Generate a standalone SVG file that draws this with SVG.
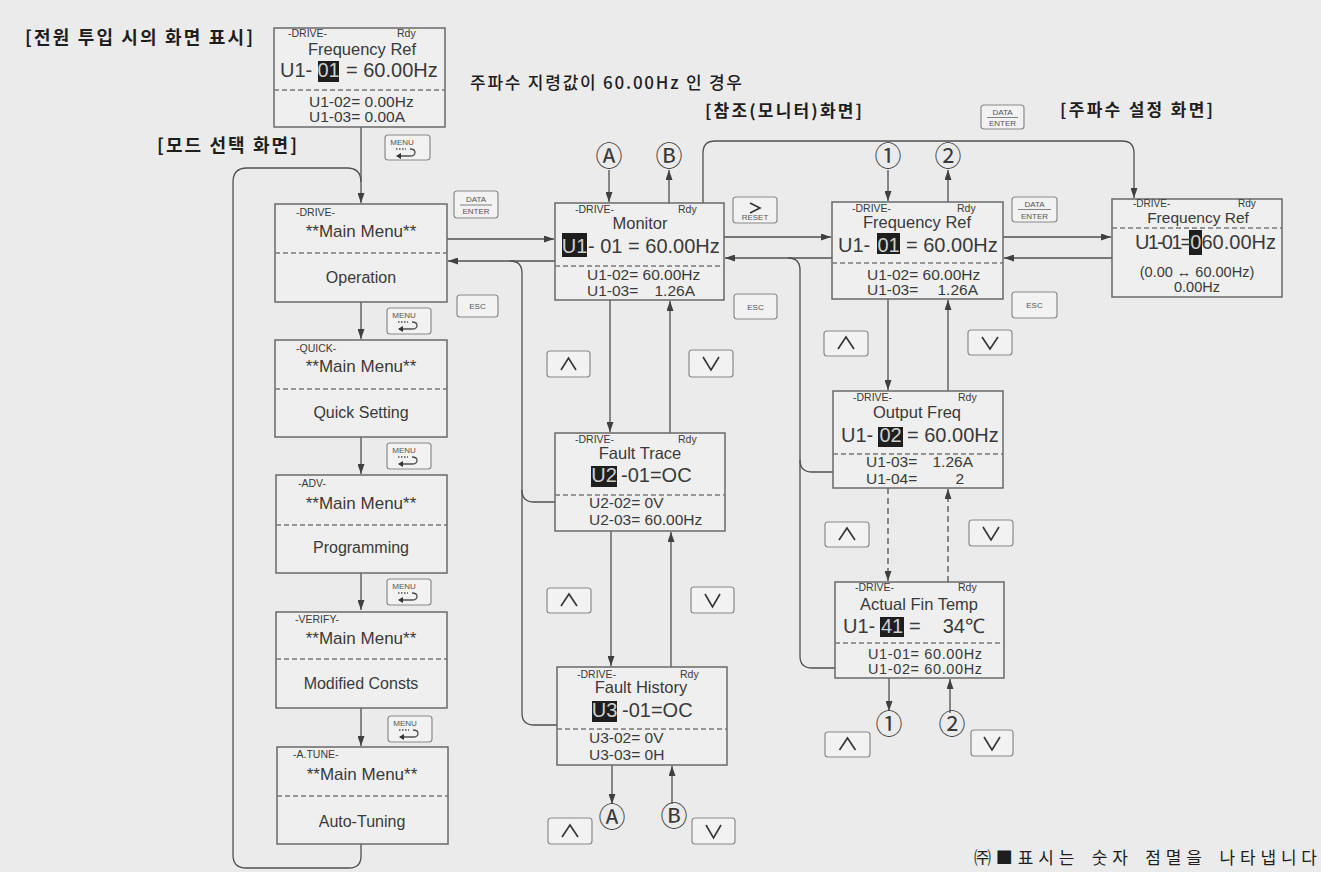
<svg xmlns="http://www.w3.org/2000/svg" width="1321" height="872" viewBox="0 0 1321 872">
<defs>
<marker id="a" viewBox="0 0 10 7" refX="10" refY="3.5" markerWidth="10" markerHeight="7" orient="auto" markerUnits="userSpaceOnUse"><path d="M0,0 L10,3.5 L0,7 z" fill="#404040"/></marker>
<style>
.bg{fill:#ebebeb}
.bx{fill:#efefef;stroke:#6a6a6a;stroke-width:1.5}
.dsh{stroke:#7a7a7a;stroke-width:1.3;stroke-dasharray:5 3;fill:none}
.ln{fill:none;stroke:#505050;stroke-width:1.3}
.ld{fill:none;stroke:#505050;stroke-width:1.3;stroke-dasharray:6 4}
.t{font-family:"Liberation Sans",Arial,sans-serif;fill:#3a3a3a}
.s{font-size:10.5px}
.ti{font-size:16.5px;text-anchor:middle}
.big{font-size:20px}
.sub{font-size:15.5px}
.mm{font-size:17px;text-anchor:middle}
.m2{font-size:16px;text-anchor:middle}
.end{text-anchor:end}
.hl{fill:#1e1e1e}
.hlt{font-family:"Liberation Sans",Arial,sans-serif;font-size:20px;fill:#d0d0d0;text-anchor:middle}
.kr{font-family:"Noto Sans CJK KR","Noto Sans CJK SC",sans-serif;fill:#1e1e1e}
.btn{fill:#f2f2f2;stroke:#8a8a8a;stroke-width:1.2}
.bt{font-family:"Liberation Sans",Arial,sans-serif;font-size:8px;fill:#555;text-anchor:middle}
.chev{fill:none;stroke:#333;stroke-width:1.6}
.circ{font-family:"Noto Sans CJK KR","DejaVu Sans",sans-serif;font-size:27px;fill:#3a3a3a;text-anchor:middle}
</style>
</defs>
<rect class="bg" x="0" y="0" width="1321" height="872"/>

<!-- headings -->
<g id="headings">
<text class="kr" x="25" y="44" font-size="18" font-weight="bold" textLength="228" lengthAdjust="spacing">[전원 투입 시의 화면 표시]</text>
<text class="kr" x="157" y="152" font-size="18" font-weight="bold" textLength="140" lengthAdjust="spacing">[모드 선택 화면]</text>
<text class="kr" x="470" y="89" font-size="17" font-weight="500" textLength="272" lengthAdjust="spacing">주파수 지령값이 60.00Hz 인 경우</text>
<text class="kr" x="705" y="117" font-size="17" font-weight="bold" textLength="157" lengthAdjust="spacing">[참조(모니터)화면]</text>
<text class="kr" x="1060" y="116" font-size="17" font-weight="bold" textLength="153" lengthAdjust="spacing">[주파수 설정 화면]</text>
</g>
<g id="footnote">
<text class="kr" x="974" y="864" font-size="17" word-spacing="4" textLength="343" lengthAdjust="spacing">㈜■표시는 숫자 점멸을 나타냅니다</text>
</g>

<!-- connectors -->
<g id="connectors">
<path class="ln" d="M361,127 V203" marker-end="url(#a)"/>
<path class="ln" d="M361,844 V856 Q361,868 349,868 H246 Q233,868 233,855 V182 Q233,168 247,168 H347 Q361,168 361,182"/>
<path class="ln" d="M361,302 V339" marker-end="url(#a)"/>
<path class="ln" d="M361,437 V474" marker-end="url(#a)"/>
<path class="ln" d="M361,573 V610" marker-end="url(#a)"/>
<path class="ln" d="M361,708 V746" marker-end="url(#a)"/>
<path class="ln" d="M447,239 H554" marker-end="url(#a)"/>
<path class="ln" d="M555,261 H448" marker-end="url(#a)"/>
<path class="ln" d="M557,725 H534 Q522,725 522,713 V273 Q522,261 510,261"/>
<path class="ln" d="M555,502 H534 Q522,502 522,490"/>
<path class="ln" d="M724,237 H831" marker-end="url(#a)"/>
<path class="ln" d="M832,258 H725" marker-end="url(#a)"/>
<path class="ln" d="M835,668 H812 Q800,668 800,656 V270 Q800,258 788,258"/>
<path class="ln" d="M833,472 H812 Q800,472 800,460"/>
<path class="ln" d="M1003,237 H1111" marker-end="url(#a)"/>
<path class="ln" d="M1112,258 H1004" marker-end="url(#a)"/>
<path class="ln" d="M703,203 V153 Q703,141 715,141 H1122 Q1134,141 1134,153 V198" marker-end="url(#a)"/>
<path class="ln" d="M609,170 V202" marker-end="url(#a)"/>
<path class="ln" d="M669,203 V170" marker-end="url(#a)"/>
<path class="ln" d="M610,300 V432" marker-end="url(#a)"/>
<path class="ln" d="M670,433 V301" marker-end="url(#a)"/>
<path class="ln" d="M611,531 V666" marker-end="url(#a)"/>
<path class="ln" d="M671,667 V532" marker-end="url(#a)"/>
<path class="ln" d="M612,765 V804" marker-end="url(#a)"/>
<path class="ln" d="M672,804 V766" marker-end="url(#a)"/>
<path class="ln" d="M888,170 V201" marker-end="url(#a)"/>
<path class="ln" d="M948,202 V170" marker-end="url(#a)"/>
<path class="ln" d="M888,299 V390" marker-end="url(#a)"/>
<path class="ln" d="M948,391 V300" marker-end="url(#a)"/>
<path class="ld" d="M888,488 V581" marker-end="url(#a)"/>
<path class="ld" d="M948,582 V489" marker-end="url(#a)"/>
<path class="ln" d="M889,678 V711" marker-end="url(#a)"/>
<path class="ln" d="M950,713 V679" marker-end="url(#a)"/>
</g>

<!-- circled labels -->
<g id="labels">
<text class="circ" x="609" y="166">Ⓐ</text>
<text class="circ" x="669" y="166">Ⓑ</text>
<text class="circ" x="888" y="166">①</text>
<text class="circ" x="948" y="166">②</text>
<text class="circ" x="612" y="827">Ⓐ</text>
<text class="circ" x="674" y="826">Ⓑ</text>
<text class="circ" x="889" y="734">①</text>
<text class="circ" x="952" y="734">②</text>
</g>

<!-- power-on screen -->
<g id="node-power">
<rect class="bx" x="274" y="28" width="171" height="99"/>
<line class="dsh" x1="274" y1="90" x2="445" y2="90"/>
<text class="t s" x="288" y="37">-DRIVE-</text>
<text class="t s" x="397" y="37">Rdy</text>
<text class="t ti" x="362" y="55">Frequency Ref</text>
<text class="t big" x="280" y="77">U1-</text>
<rect class="hl" x="318" y="61" width="21" height="21"/>
<text class="hlt" x="328.5" y="77">01</text>
<text class="t big" x="346" y="77">= 60.00Hz</text>
<text class="t sub" x="309" y="107">U1-02= 0.00Hz</text>
<text class="t sub" x="309" y="122">U1-03= 0.00A</text>
</g>

<!-- main menu screens -->
<g id="node-drive">
<rect class="bx" x="275" y="204" width="172" height="98"/>
<line class="dsh" x1="275" y1="253" x2="447" y2="253"/>
<text class="t s" x="296" y="216">-DRIVE-</text>
<text class="t mm" x="361" y="237">**Main Menu**</text>
<text class="t m2" x="361" y="283">Operation</text>
</g>
<g id="node-quick">
<rect class="bx" x="275" y="340" width="172" height="97"/>
<line class="dsh" x1="275" y1="389" x2="447" y2="389"/>
<text class="t s" x="296" y="352">-QUICK-</text>
<text class="t mm" x="361" y="372">**Main Menu**</text>
<text class="t m2" x="361" y="418">Quick Setting</text>
</g>
<g id="node-adv">
<rect class="bx" x="276" y="475" width="171" height="98"/>
<line class="dsh" x1="276" y1="525" x2="447" y2="525"/>
<text class="t s" x="298" y="487">-ADV-</text>
<text class="t mm" x="361" y="509">**Main Menu**</text>
<text class="t m2" x="361" y="553">Programming</text>
</g>
<g id="node-verify">
<rect class="bx" x="276" y="612" width="171" height="96"/>
<line class="dsh" x1="276" y1="659" x2="447" y2="659"/>
<text class="t s" x="295" y="623">-VERIFY-</text>
<text class="t mm" x="361" y="644">**Main Menu**</text>
<text class="t m2" x="361" y="689">Modified Consts</text>
</g>
<g id="node-atune">
<rect class="bx" x="277" y="747" width="171" height="97"/>
<line class="dsh" x1="277" y1="796" x2="448" y2="796"/>
<text class="t s" x="293" y="758">-A.TUNE-</text>
<text class="t mm" x="362" y="780">**Main Menu**</text>
<text class="t m2" x="362" y="827">Auto-Tuning</text>
</g>

<!-- monitor column -->
<g id="node-monitor">
<rect class="bx" x="555" y="203" width="169" height="97"/>
<line class="dsh" x1="555" y1="266" x2="724" y2="266"/>
<text class="t s" x="575" y="213">-DRIVE-</text>
<text class="t s" x="678" y="213">Rdy</text>
<text class="t ti" x="640" y="229">Monitor</text>
<rect class="hl" x="562" y="233" width="25" height="24"/>
<text class="hlt" x="574.5" y="253">U1</text>
<text class="t big" x="588" y="253">- 01 = 60.00Hz</text>
<text class="t sub" x="587" y="280">U1-02= 60.00Hz</text>
<text class="t sub" x="587" y="296">U1-03=</text>
<text class="t sub end" x="695" y="296">1.26A</text>
</g>
<g id="node-faulttrace">
<rect class="bx" x="555" y="433" width="170" height="98"/>
<line class="dsh" x1="555" y1="495" x2="725" y2="495"/>
<text class="t s" x="575" y="443">-DRIVE-</text>
<text class="t s" x="678" y="443">Rdy</text>
<text class="t ti" x="640" y="459">Fault Trace</text>
<rect class="hl" x="591" y="466" width="26" height="21"/>
<text class="hlt" x="604" y="482">U2</text>
<text class="t big" x="621" y="482">-01=OC</text>
<text class="t sub" x="589" y="508">U2-02= 0V</text>
<text class="t sub" x="589" y="525">U2-03= 60.00Hz</text>
</g>
<g id="node-faulthistory">
<rect class="bx" x="557" y="667" width="170" height="98"/>
<line class="dsh" x1="557" y1="729" x2="727" y2="729"/>
<text class="t s" x="577" y="678">-DRIVE-</text>
<text class="t s" x="680" y="678">Rdy</text>
<text class="t ti" x="641" y="693">Fault History</text>
<rect class="hl" x="592" y="701" width="25" height="21"/>
<text class="hlt" x="604.5" y="717">U3</text>
<text class="t big" x="622" y="717">-01=OC</text>
<text class="t sub" x="589" y="743">U3-02= 0V</text>
<text class="t sub" x="589" y="760">U3-03= 0H</text>
</g>

<!-- U1 column -->
<g id="node-freqref">
<rect class="bx" x="832" y="202" width="171" height="97"/>
<line class="dsh" x1="832" y1="263" x2="1003" y2="263"/>
<text class="t s" x="852" y="212">-DRIVE-</text>
<text class="t s" x="957" y="212">Rdy</text>
<text class="t ti" x="917" y="228">Frequency Ref</text>
<text class="t big" x="838" y="252">U1-</text>
<rect class="hl" x="877" y="233" width="23" height="21"/>
<text class="hlt" x="888.5" y="252">01</text>
<text class="t big" x="906" y="252">= 60.00Hz</text>
<text class="t sub" x="867" y="280">U1-02= 60.00Hz</text>
<text class="t sub" x="867" y="295">U1-03=</text>
<text class="t sub end" x="978" y="295">1.26A</text>
</g>
<g id="node-outputfreq">
<rect class="bx" x="833" y="391" width="170" height="97"/>
<line class="dsh" x1="833" y1="454" x2="1003" y2="454"/>
<text class="t s" x="853" y="401">-DRIVE-</text>
<text class="t s" x="958" y="401">Rdy</text>
<text class="t ti" x="917" y="418">Output Freq</text>
<text class="t big" x="841" y="442">U1-</text>
<rect class="hl" x="878" y="427" width="25" height="20"/>
<text class="hlt" x="890.5" y="442">02</text>
<text class="t big" x="907" y="442">= 60.00Hz</text>
<text class="t sub" x="866" y="467">U1-03=</text>
<text class="t sub end" x="973" y="467">1.26A</text>
<text class="t sub" x="866" y="484">U1-04=</text>
<text class="t sub end" x="964" y="484">2</text>
</g>
<g id="node-fintemp">
<rect class="bx" x="835" y="582" width="169" height="96"/>
<line class="dsh" x1="835" y1="643" x2="1004" y2="643"/>
<text class="t s" x="855" y="591">-DRIVE-</text>
<text class="t s" x="958" y="591">Rdy</text>
<text class="t ti" x="919" y="610">Actual Fin Temp</text>
<text class="t big" x="843" y="633">U1-</text>
<rect class="hl" x="880" y="617" width="24" height="20"/>
<text class="hlt" x="892" y="633">41</text>
<text class="t big" x="909" y="633">=</text>
<text class="t big end" x="985" y="633" font-family="'Liberation Sans','DejaVu Sans','Noto Sans CJK KR',sans-serif">34℃</text>
<text class="t" x="868" y="659" font-size="14.5" textLength="114" lengthAdjust="spacing">U1-01= 60.00Hz</text>
<text class="t" x="868" y="674" font-size="14.5" textLength="114" lengthAdjust="spacing">U1-02= 60.00Hz</text>
</g>

<!-- frequency setting screen -->
<g id="node-setting">
<rect class="bx" x="1112" y="199" width="170" height="98"/>
<line class="dsh" x1="1112" y1="228" x2="1282" y2="228"/>
<text class="t" x="1133" y="207" font-size="10">-DRIVE-</text>
<text class="t" x="1238" y="207" font-size="10">Rdy</text>
<text class="t" x="1198" y="223" font-size="15.5" text-anchor="middle">Frequency Ref</text>
<rect class="hl" x="1189" y="230" width="13" height="25"/>
<text class="t big" x="1135" y="249"><tspan letter-spacing="-1.8">U1-01=</tspan><tspan fill="#d0d0d0">0</tspan>60.00Hz</text>
<text class="t" x="1197" y="277" font-size="14.5" text-anchor="middle">(0.00 ↔ 60.00Hz)</text>
<text class="t" x="1197" y="291.5" font-size="14.5" text-anchor="middle">0.00Hz</text>
</g>

<!-- keys -->
<g id="keys">
<g id="key-menu-0"><rect class="btn" x="385" y="135" width="45" height="25" rx="3"/><text class="bt" x="402" y="145">MENU</text><path class="ln" d="M396,149 h10" stroke-dasharray="1.5 1.5"/><path class="ln" d="M410,149 q5,0 5,3.5 q0,3.5 -5,3.5 h-13" stroke="#333"/><path d="M396,156 l5,-3 v6 z" fill="#333"/></g>
<g id="key-enter-0"><rect class="btn" x="454" y="191" width="44" height="27" rx="3"/><text class="bt" x="476" y="202">DATA</text><line x1="460" y1="205" x2="492" y2="205" stroke="#666" stroke-width="0.8"/><text class="bt" x="476" y="214">ENTER</text></g>
<g id="key-esc-0"><rect class="btn" x="457" y="295" width="41" height="22" rx="3"/><text class="bt" x="477.5" y="309">ESC</text></g>
<g id="key-menu-1"><rect class="btn" x="387" y="308" width="44" height="26" rx="3"/><text class="bt" x="404" y="318">MENU</text><path class="ln" d="M398,322 h10" stroke-dasharray="1.5 1.5"/><path class="ln" d="M412,322 q5,0 5,3.5 q0,3.5 -5,3.5 h-13" stroke="#333"/><path d="M398,329 l5,-3 v6 z" fill="#333"/></g>
<g id="key-menu-2"><rect class="btn" x="387" y="443" width="44" height="26" rx="3"/><text class="bt" x="404" y="453">MENU</text><path class="ln" d="M398,457 h10" stroke-dasharray="1.5 1.5"/><path class="ln" d="M412,457 q5,0 5,3.5 q0,3.5 -5,3.5 h-13" stroke="#333"/><path d="M398,464 l5,-3 v6 z" fill="#333"/></g>
<g id="key-menu-3"><rect class="btn" x="387" y="579" width="44" height="26" rx="3"/><text class="bt" x="404" y="589">MENU</text><path class="ln" d="M398,593 h10" stroke-dasharray="1.5 1.5"/><path class="ln" d="M412,593 q5,0 5,3.5 q0,3.5 -5,3.5 h-13" stroke="#333"/><path d="M398,600 l5,-3 v6 z" fill="#333"/></g>
<g id="key-menu-4"><rect class="btn" x="388" y="716" width="44" height="26" rx="3"/><text class="bt" x="405" y="726">MENU</text><path class="ln" d="M399,730 h10" stroke-dasharray="1.5 1.5"/><path class="ln" d="M413,730 q5,0 5,3.5 q0,3.5 -5,3.5 h-13" stroke="#333"/><path d="M399,737 l5,-3 v6 z" fill="#333"/></g>
<g id="key-reset"><rect class="btn" x="733" y="197" width="44" height="26" rx="3"/><path class="chev" d="M750,203 L760,208 L750,213"/><text class="bt" x="755" y="220">RESET</text></g>
<g id="key-esc-1"><rect class="btn" x="734" y="294" width="43" height="25" rx="3"/><text class="bt" x="755.5" y="309.5">ESC</text></g>
<g id="key-up-1"><rect class="btn" x="547" y="351" width="43" height="26" rx="3"/><path class="chev" d="M561,370 L568.5,358 L576,370"/></g>
<g id="key-down-1"><rect class="btn" x="689" y="350" width="44" height="27" rx="3"/><path class="chev" d="M703,357 L711,370 L719,357"/></g>
<g id="key-up-2"><rect class="btn" x="547" y="588" width="44" height="25" rx="3"/><path class="chev" d="M561,606 L569,594 L577,606"/></g>
<g id="key-down-2"><rect class="btn" x="691" y="587" width="43" height="26" rx="3"/><path class="chev" d="M705,594 L712.5,607 L720,594"/></g>
<g id="key-up-3"><rect class="btn" x="548" y="818" width="44" height="26" rx="3"/><path class="chev" d="M562,837 L570,825 L578,837"/></g>
<g id="key-down-3"><rect class="btn" x="692" y="818" width="43" height="26" rx="3"/><path class="chev" d="M706,825 L713.5,838 L721,825"/></g>
<g id="key-enter-1"><rect class="btn" x="981" y="105" width="43" height="24" rx="3"/><text class="bt" x="1002.5" y="115">DATA</text><line x1="987" y1="117.5" x2="1018" y2="117.5" stroke="#666" stroke-width="0.8"/><text class="bt" x="1002.5" y="126">ENTER</text></g>
<g id="key-enter-2"><rect class="btn" x="1012" y="197" width="45" height="25" rx="3"/><text class="bt" x="1034.5" y="207">DATA</text><line x1="1018" y1="209.5" x2="1051" y2="209.5" stroke="#666" stroke-width="0.8"/><text class="bt" x="1034.5" y="219">ENTER</text></g>
<g id="key-esc-2"><rect class="btn" x="1012" y="292" width="45" height="26" rx="3"/><text class="bt" x="1034.5" y="308">ESC</text></g>
<g id="key-up-4"><rect class="btn" x="824" y="331" width="44" height="25" rx="3"/><path class="chev" d="M838,349 L846,337 L854,349"/></g>
<g id="key-down-4"><rect class="btn" x="968" y="330" width="44" height="25" rx="3"/><path class="chev" d="M982,337 L990,349 L998,337"/></g>
<g id="key-up-5"><rect class="btn" x="825" y="522" width="44" height="25" rx="3"/><path class="chev" d="M839,540 L847,528 L855,540"/></g>
<g id="key-down-5"><rect class="btn" x="969" y="520" width="44" height="26" rx="3"/><path class="chev" d="M983,527 L991,540 L999,527"/></g>
<g id="key-up-6"><rect class="btn" x="825" y="732" width="45" height="25" rx="3"/><path class="chev" d="M839.5,750 L847.5,738 L855.5,750"/></g>
<g id="key-down-6"><rect class="btn" x="971" y="730" width="42" height="26" rx="3"/><path class="chev" d="M984,737 L992,750 L1000,737"/></g>
</g>
</svg>
